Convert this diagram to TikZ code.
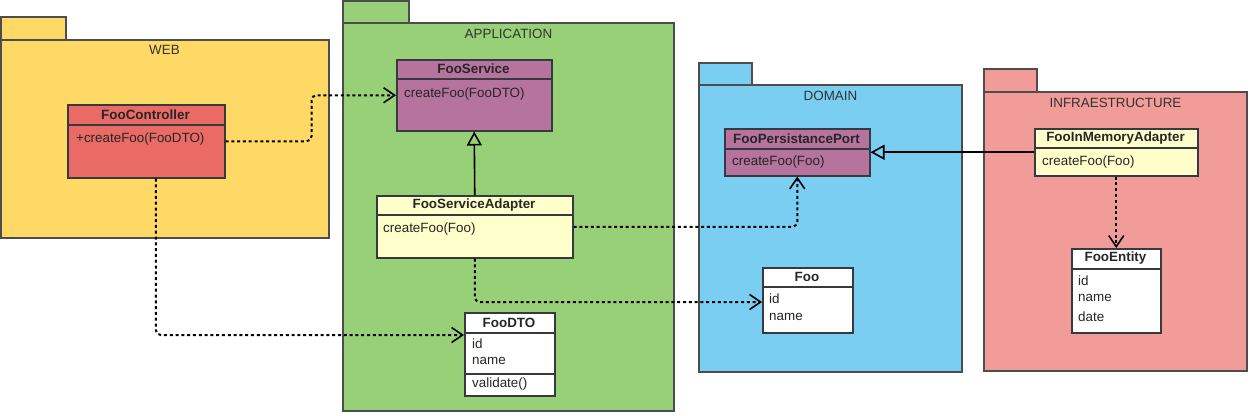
\documentclass[tikz,border=0pt]{standalone}
\usepackage{fontspec}
\setmainfont{Liberation Sans}
\usetikzlibrary{arrows.meta,calc}
\definecolor{webc}{HTML}{FFD966}
\definecolor{appc}{HTML}{97D077}
\definecolor{domc}{HTML}{79CEF2}
\definecolor{infc}{HTML}{F19C99}
\definecolor{ctrlc}{HTML}{EA6B66}
\definecolor{portc}{HTML}{B5739D}
\definecolor{adpc}{HTML}{FFFFCC}
\definecolor{pkgline}{HTML}{4D4D4D}
\definecolor{clsline}{HTML}{36393D}
\definecolor{labelc}{HTML}{333333}
\begin{document}
\begin{tikzpicture}[x=1pt,y=-1pt,
  every node/.style={font=\fontsize{13.4}{16}\selectfont},
  pkg/.style={draw=pkgline, line width=1.6pt},
  cls/.style={draw=clsline, line width=1.5pt, anchor=north west, inner sep=0pt},
  divider/.style={draw=clsline, line width=1.5pt},
  hdr/.style={font=\fontsize{13.4}{16}\selectfont\bfseries, inner sep=0pt, text=black!85},
  txt/.style={anchor=west, inner sep=0pt, text=black!85},
  plabel/.style={inner sep=0pt, text=labelc},
  dep/.style={draw=black, line width=2pt, dash pattern=on 3pt off 2.8pt, rounded corners=5pt,
    -{Straight Barb[length=11pt,width=15pt,line width=1.6pt]}},
  gen/.style={draw=black, line width=1.6pt, -{Triangle[open, length=14pt, width=15pt, line width=1.6pt]}}
]
\useasboundingbox (0,0) rectangle (1250,415);

% ---------- packages ----------
\draw[pkg, fill=webc] (0.8,17) rectangle (66,40);
\draw[pkg, fill=webc] (0.8,40) rectangle (329,238);
\node[plabel] (lweb) at (164.5,50) {WEB};

\draw[pkg, fill=appc] (343,0.8) rectangle (409,23);
\draw[pkg, fill=appc] (343,23) rectangle (674,411);
\node[plabel] (lapp) at (508.5,34) {APPLICATION};

\draw[pkg, fill=domc] (699,63) rectangle (752,85);
\draw[pkg, fill=domc] (699,85) rectangle (962,372);
\node[plabel] (ldom) at (830.5,95.5) {DOMAIN};

\draw[pkg, fill=infc] (984,69) rectangle (1037,92);
\draw[pkg, fill=infc] (984,92) rectangle (1247,371);
\node[plabel] (linf) at (1115.5,102.5) {INFRAESTRUCTURE};

% ---------- classes ----------
% FooController
\node[cls, fill=ctrlc, minimum width=157pt, minimum height=73pt] (ctrl) at (67,104) {};
\draw[divider] (67,125) -- (224,125);
\node[hdr] (ctrlh) at (145.5,114.5) {FooController};
\node[txt] (ctrlm) at (76,139) {+createFoo(FooDTO)};

% FooService
\node[cls, fill=portc, minimum width=155pt, minimum height=71pt] (svc) at (396,59) {};
\draw[divider] (396,79) -- (551,79);
\node[hdr] (svch) at (473.5,69) {FooService};
\node[txt] (svcm) at (404,94) {createFoo(FooDTO)};

% FooServiceAdapter
\node[cls, fill=adpc, minimum width=196pt, minimum height=62pt] (sadp) at (376,195) {};
\draw[divider] (376,215) -- (572,215);
\node[hdr] (sadph) at (474,205) {FooServiceAdapter};
\node[txt] (sadpm) at (383,229) {createFoo(Foo)};

% FooDTO
\node[cls, fill=white, minimum width=90pt, minimum height=83pt] (dto) at (464,312) {};
\draw[divider] (464,333) -- (554,333);
\draw[divider] (464,374) -- (554,374);
\node[hdr] (dtoh) at (509,322.5) {FooDTO};
\node[txt] (dtoa) at (472,344) {id};
\node[txt] (dtob) at (472,361) {name};
\node[txt] (dtom) at (472,384.5) {validate()};

% FooPersistancePort
\node[cls, fill=portc, minimum width=145pt, minimum height=47pt] (port) at (724,128) {};
\draw[divider] (724,149) -- (869,149);
\node[hdr] (porth) at (796.5,138.5) {FooPersistancePort};
\node[txt] (portm) at (732,162) {createFoo(Foo)};

% Foo
\node[cls, fill=white, minimum width=90pt, minimum height=65pt] (foo) at (762,267) {};
\draw[divider] (762,287) -- (852,287);
\node[hdr] (fooh) at (807,277) {Foo};
\node[txt] (fooa) at (769,298.5) {id};
\node[txt] (foob) at (769,317) {name};

% FooInMemoryAdapter
\node[cls, fill=adpc, minimum width=163pt, minimum height=47pt] (inmem) at (1034,128) {};
\draw[divider] (1034,148) -- (1197,148);
\node[hdr] (inmemh) at (1115.5,138) {FooInMemoryAdapter};
\node[txt] (inmemm) at (1042,162.5) {createFoo(Foo)};

% FooEntity
\node[cls, fill=white, minimum width=89pt, minimum height=84pt] (ent) at (1071,248) {};
\draw[divider] (1071,269) -- (1160,269);
\node[hdr] (enth) at (1115.5,258.5) {FooEntity};
\node[txt] (enta) at (1078,281) {id};
\node[txt] (entb) at (1078,298) {name};
\node[txt] (entc) at (1078,316.5) {date};

% ---------- connectors ----------
\draw[dep] (ctrl.east) -- ++(86,0) |- (svc.west);
\draw[dep] ([xshift=9.5pt]ctrl.south) |- ($(dto.north west)+(0,23)$);
\draw[gen] (sadp.north) -- (svc.south);
\draw[dep] (sadp.south) |- ($(foo.north west)+(0,35)$);
\draw[dep] (sadp.east) -| (port.south);
\draw[gen] (inmem.west) -- (port.east);
\draw[dep] (inmem.south) -- (ent.north);
\end{tikzpicture}
\end{document}
